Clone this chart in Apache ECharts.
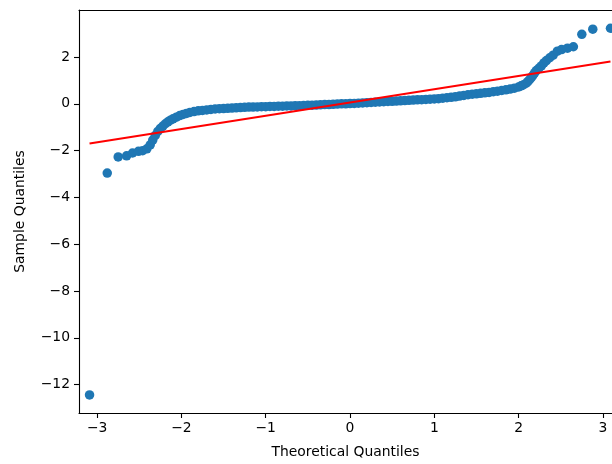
<!DOCTYPE html>
<html>
<head>
<meta charset="utf-8">
<script src="https://cdn.jsdelivr.net/npm/echarts@6/dist/echarts.min.js"></script>
<style>
html,body{margin:0;padding:0;background:#fff;}
#chart{width:612px;height:464px;}
</style>
</head>
<body>
<div id="chart"></div>
<script>
// Theoretical quantiles (x) and sample quantiles (y)
var theoretical = [
-3.09,-2.88,-2.75,-2.65,-2.58,-2.51,-2.46,-2.41,-2.37,-2.34,-2.31,-2.28,-2.25,-2.22,-2.19,-2.16,-2.13,-2.10,-2.06,-2.02,
-1.98,-1.94,-1.90,-1.85,-1.80,-1.75,-1.70,-1.65,-1.60,-1.55,-1.50,-1.45,-1.40,-1.35,-1.30,-1.25,-1.20,-1.15,-1.10,-1.05,
-1.00,-0.95,-0.90,-0.85,-0.80,-0.75,-0.70,-0.65,-0.60,-0.55,-0.50,-0.45,-0.40,-0.35,-0.30,-0.25,-0.20,-0.15,-0.10,-0.05,
0.00,0.05,0.10,0.15,0.20,0.25,0.30,0.35,0.40,0.45,0.50,0.55,0.60,0.65,0.70,0.75,0.80,0.85,0.90,0.95,
1.00,1.05,1.10,1.15,1.20,1.25,1.30,1.35,1.40,1.45,1.50,1.55,1.60,1.65,1.70,1.75,1.80,1.85,1.90,1.95,
2.00,2.03,2.06,2.09,2.11,2.13,2.15,2.17,2.19,2.21,2.24,2.27,2.30,2.33,2.37,2.41,2.46,2.51,2.58,2.65,
2.75,2.88,3.09
];
var sample = [
-12.44,-2.96,-2.27,-2.22,-2.10,-2.03,-2.00,-1.92,-1.75,-1.55,-1.35,-1.18,-1.05,-0.95,-0.85,-0.77,-0.70,-0.64,-0.57,-0.50,
-0.45,-0.41,-0.37,-0.33,-0.30,-0.28,-0.26,-0.24,-0.22,-0.21,-0.20,-0.19,-0.18,-0.17,-0.16,-0.15,-0.14,-0.14,-0.13,-0.12,
-0.12,-0.11,-0.11,-0.10,-0.10,-0.09,-0.09,-0.08,-0.08,-0.07,-0.06,-0.06,-0.05,-0.04,-0.03,-0.03,-0.02,-0.01,0.00,0.00,
0.01,0.02,0.03,0.04,0.05,0.06,0.07,0.08,0.09,0.10,0.11,0.12,0.13,0.14,0.15,0.16,0.17,0.18,0.19,0.20,
0.21,0.22,0.24,0.26,0.28,0.30,0.33,0.36,0.39,0.41,0.43,0.45,0.47,0.49,0.52,0.54,0.57,0.60,0.63,0.67,
0.72,0.77,0.82,0.88,0.95,1.03,1.12,1.22,1.32,1.42,1.52,1.62,1.75,1.85,1.97,2.08,2.25,2.32,2.38,2.44,
2.97,3.19,3.23
];
// Reference line end points
var lineX = [-3.09, 3.09];
var lineY = [-1.697, 1.807];
// Tick labels
var xTicks = [-3, -2, -1, 0, 1, 2, 3];
var yTicks = [-12, -10, -8, -6, -4, -2, 0, 2];

var points = theoretical.map(function (x, i) { return [x, sample[i]]; });
var linePts = lineX.map(function (x, i) { return [x, lineY[i]]; });

function fmt(v) { return v < 0 ? '\u2212' + Math.abs(v) : String(v); }

var font = 'DejaVu Sans';
var X_MIN = -3.215, X_MAX = 3.108;
var chart = echarts.init(document.getElementById('chart'), null, {renderer: 'canvas'});
chart.setOption({
  animation: false,
  backgroundColor: '#fff',
  grid: {left: 79, top: 10, right: 0, height: 403, show: false},
  xAxis: [{
    type: 'value', min: X_MIN, max: X_MAX, position: 'bottom',
    name: 'Theoretical Quantiles', nameLocation: 'middle', nameGap: 32,
    nameTextStyle: {fontFamily: font, fontSize: 13.9, color: '#000'},
    axisLine: {show: true, onZero: false, lineStyle: {color: '#000', width: 1.1}},
    splitLine: {show: false},
    axisTick: {show: true, inside: false, length: 5, lineStyle: {color: '#000', width: 1.1}, customValues: xTicks},
    axisLabel: {fontFamily: font, fontSize: 13.9, color: '#000', margin: 8, customValues: xTicks, formatter: fmt}
  }, {
    type: 'value', min: X_MIN, max: X_MAX, position: 'top',
    axisLine: {show: true, onZero: false, lineStyle: {color: '#000', width: 1.1}},
    splitLine: {show: false}, axisTick: {show: false}, axisLabel: {show: false}
  }],
  yAxis: {
    type: 'value', min: -13.21, max: 4.01, position: 'left',
    name: 'Sample Quantiles', nameLocation: 'middle', nameGap: 52, nameRotate: 90,
    nameTextStyle: {fontFamily: font, fontSize: 13.9, color: '#000'},
    axisLine: {show: true, onZero: false, lineStyle: {color: '#000', width: 1.1}},
    splitLine: {show: false},
    axisTick: {show: true, inside: false, length: 5, lineStyle: {color: '#000', width: 1.1}, customValues: yTicks},
    axisLabel: {fontFamily: font, fontSize: 13.9, color: '#000', margin: 9, customValues: yTicks, formatter: fmt}
  },
  series: [
    {type: 'scatter', data: points, symbol: 'circle', symbolSize: 9.5, itemStyle: {color: '#1f77b4', opacity: 1}, z: 2},
    {type: 'line', data: linePts, symbol: 'none', lineStyle: {color: '#ff0000', width: 2}, z: 3}
  ]
});
</script>
</body>
</html>
